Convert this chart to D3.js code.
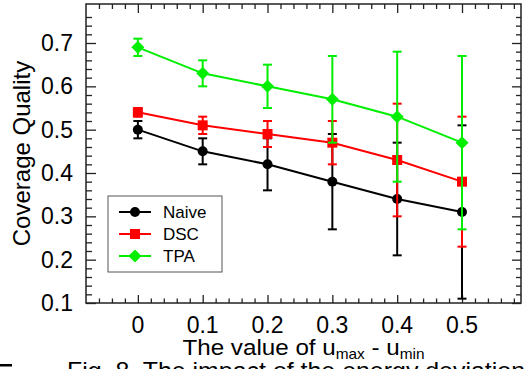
<!DOCTYPE html>
<html>
<head>
<meta charset="utf-8">
<script src="https://cdn.jsdelivr.net/npm/d3@7"></script>
<style>
  body { margin: 0; background: #fff; }
  svg { display: block; }
</style>
</head>
<body>
<div id="chart"></div>
<script>
// data
const xValues = [0, 0.1, 0.2, 0.3, 0.4, 0.5];
const naive = [0.50, 0.45, 0.42, 0.38, 0.34, 0.31];
const naiveErr = [0.02, 0.03, 0.06, 0.11, 0.13, 0.20];
const dsc = [0.54, 0.51, 0.49, 0.47, 0.43, 0.38];
const dscErr = [0.01, 0.02, 0.03, 0.05, 0.13, 0.15];
const tpa = [0.69, 0.63, 0.60, 0.57, 0.53, 0.47];
const tpaErr = [0.02, 0.03, 0.05, 0.10, 0.15, 0.20];
const seriesNames = ['Naive', 'DSC', 'TPA'];
const xTicks = [0, 0.1, 0.2, 0.3, 0.4, 0.5];
const yTicks = [0.1, 0.2, 0.3, 0.4, 0.5, 0.6, 0.7];

const width = 532, height = 369;
const fontFamily = '"Liberation Sans", Arial, Helvetica, sans-serif';
const margin = { top: 4, right: 11, bottom: 66, left: 86 };

const svg = d3.select('#chart')
    .append('svg')
    .attr('width', width)
    .attr('height', height);

const x = d3.scaleLinear()
    .domain([-0.08, 0.591])
    .range([margin.left, width - margin.right]);

const y = d3.scaleLinear()
    .domain([0.1, 0.79])
    .range([height - margin.bottom, margin.top]);

const x0 = x.range()[0], x1 = x.range()[1];
const y0 = y.range()[0], y1 = y.range()[1];

// minor ticks every 0.02
const xMinor = d3.range(-6, 59, 2).map(v => v / 100).filter(v => Math.abs(v * 10 - Math.round(v * 10)) > 1e-6);
const yMinor = d3.range(10, 78, 2).map(v => v / 100).filter(v => Math.abs(v * 10 - Math.round(v * 10)) > 1e-6);

const axisColor = '#222';

function styleAxis(g) {
    g.select('.domain').remove();
    g.selectAll('.tick line').attr('stroke', axisColor).attr('stroke-width', 1.3);
    g.selectAll('.tick text').remove();
}

// inward ticks on all four sides
svg.append('g').attr('transform', `translate(0,${y0})`)
    .call(d3.axisBottom(x).tickValues(xTicks).tickSize(-8)).call(styleAxis);
svg.append('g').attr('transform', `translate(0,${y0})`)
    .call(d3.axisBottom(x).tickValues(xMinor).tickSize(-4.5)).call(styleAxis);
svg.append('g').attr('transform', `translate(0,${y1})`)
    .call(d3.axisTop(x).tickValues(xTicks).tickSize(-9)).call(styleAxis);
svg.append('g').attr('transform', `translate(0,${y1})`)
    .call(d3.axisTop(x).tickValues(xMinor).tickSize(-5)).call(styleAxis);
svg.append('g').attr('transform', `translate(${x0},0)`)
    .call(d3.axisLeft(y).tickValues(yTicks).tickSize(-10)).call(styleAxis);
svg.append('g').attr('transform', `translate(${x0},0)`)
    .call(d3.axisLeft(y).tickValues(yMinor).tickSize(-6)).call(styleAxis);
svg.append('g').attr('transform', `translate(${x1},0)`)
    .call(d3.axisRight(y).tickValues(yTicks).tickSize(-9)).call(styleAxis);
svg.append('g').attr('transform', `translate(${x1},0)`)
    .call(d3.axisRight(y).tickValues(yMinor).tickSize(-5)).call(styleAxis);

// frame
svg.append('rect')
    .attr('x', x0).attr('y', y1)
    .attr('width', x1 - x0).attr('height', y0 - y1)
    .attr('fill', 'none')
    .attr('stroke', axisColor)
    .attr('stroke-width', 1.5);

// tick labels
svg.append('g').selectAll('text')
    .data(xTicks)
    .enter()
    .append('text')
    .attr('x', d => x(d))
    .attr('y', y0 + 30)
    .attr('text-anchor', 'middle')
    .style('font-family', fontFamily)
    .style('font-size', '23px')
    .text(d => d3.format('')(d));

svg.append('g').selectAll('text')
    .data(yTicks)
    .enter()
    .append('text')
    .attr('x', x0 - 13)
    .attr('y', d => y(d) + 8)
    .attr('text-anchor', 'end')
    .style('font-family', fontFamily)
    .style('font-size', '23px')
    .text(d => d3.format('.1f')(d));

// axis titles
svg.append('text')
    .attr('transform', `translate(30,${(y0 + y1) / 2}) rotate(-90)`)
    .attr('text-anchor', 'middle')
    .style('font-family', fontFamily)
    .style('font-size', '24px')
    .text('Coverage Quality');

const xTitle = svg.append('text')
    .attr('transform', `translate(${(x0 + x1) / 2},355) scale(1.1,1)`)
    .attr('text-anchor', 'middle')
    .style('font-family', fontFamily)
    .style('font-size', '22px');
xTitle.append('tspan').text('The value of u');
xTitle.append('tspan').attr('dy', 4).style('font-size', '14px').text('max');
xTitle.append('tspan').attr('dy', -4).text(' - u');
xTitle.append('tspan').attr('dy', 4).style('font-size', '14px').text('min');

// series
const series = [
    { name: seriesNames[0], values: naive, err: naiveErr, color: '#000000', shape: 'circle' },
    { name: seriesNames[1], values: dsc, err: dscErr, color: '#ff0000', shape: 'square' },
    { name: seriesNames[2], values: tpa, err: tpaErr, color: '#00ee00', shape: 'diamond' }
];

const markerPath = {
    circle: 'M5,0A5,5,0,1,1,-5,0A5,5,0,1,1,5,0Z',
    square: 'M-5,-5H5V5H-5Z',
    diamond: 'M0,-6.5L6.5,0L0,6.5L-6.5,0Z'
};

const line = d3.line()
    .x(d => x(d.x))
    .y(d => y(d.y));

series.forEach(s => {
    const pts = xValues.map((v, i) => ({ x: v, y: s.values[i], e: s.err[i] }));
    const g = svg.append('g');

    g.append('path')
        .datum(pts)
        .attr('d', line)
        .attr('fill', 'none')
        .attr('stroke', s.color)
        .attr('stroke-width', 2);

    const bars = g.selectAll('.err')
        .data(pts)
        .enter()
        .append('g')
        .attr('stroke', s.color)
        .attr('stroke-width', 2);
    bars.append('line')
        .attr('x1', d => x(d.x)).attr('x2', d => x(d.x))
        .attr('y1', d => y(d.y - d.e)).attr('y2', d => y(d.y + d.e));
    bars.append('line')
        .attr('x1', d => x(d.x) - 4.5).attr('x2', d => x(d.x) + 4.5)
        .attr('y1', d => y(d.y + d.e)).attr('y2', d => y(d.y + d.e));
    bars.append('line')
        .attr('x1', d => x(d.x) - 4.5).attr('x2', d => x(d.x) + 4.5)
        .attr('y1', d => y(d.y - d.e)).attr('y2', d => y(d.y - d.e));

    g.selectAll('.mark')
        .data(pts)
        .enter()
        .append('path')
        .attr('d', markerPath[s.shape])
        .attr('transform', d => `translate(${x(d.x)},${y(d.y)})`)
        .attr('fill', s.color);
});

// legend
const legend = svg.append('g').attr('transform', 'translate(108,196)');
legend.append('rect')
    .attr('width', 114).attr('height', 76)
    .attr('fill', '#fff')
    .attr('stroke', '#555')
    .attr('stroke-width', 1);

series.forEach((s, i) => {
    const ly = 16 + i * 22;
    legend.append('line')
        .attr('x1', 11).attr('x2', 43)
        .attr('y1', ly).attr('y2', ly)
        .attr('stroke', s.color).attr('stroke-width', 2);
    legend.append('path')
        .attr('d', markerPath[s.shape])
        .attr('transform', `translate(27,${ly})`)
        .attr('fill', s.color);
    legend.append('text')
        .attr('x', 55).attr('y', ly + 6)
        .style('font-family', fontFamily)
        .style('font-size', '17px')
        .text(s.name);
});

// caption of the page below, cut by the image edge
svg.append('rect')
    .attr('x', 0).attr('y', 359.5)
    .attr('width', width).attr('height', height - 359.5)
    .attr('fill', '#fff');
svg.append('rect')
    .attr('x', 0).attr('y', 364)
    .attr('width', 12).attr('height', 2.5)
    .attr('fill', '#000');
svg.append('text')
    .attr('x', 67).attr('y', 379)
    .attr('textLength', 458)
    .attr('lengthAdjust', 'spacingAndGlyphs')
    .style('font-family', fontFamily)
    .style('font-size', '24px')
    .text('Fig. 8. The impact of the energy deviation');
</script>
</body>
</html>
